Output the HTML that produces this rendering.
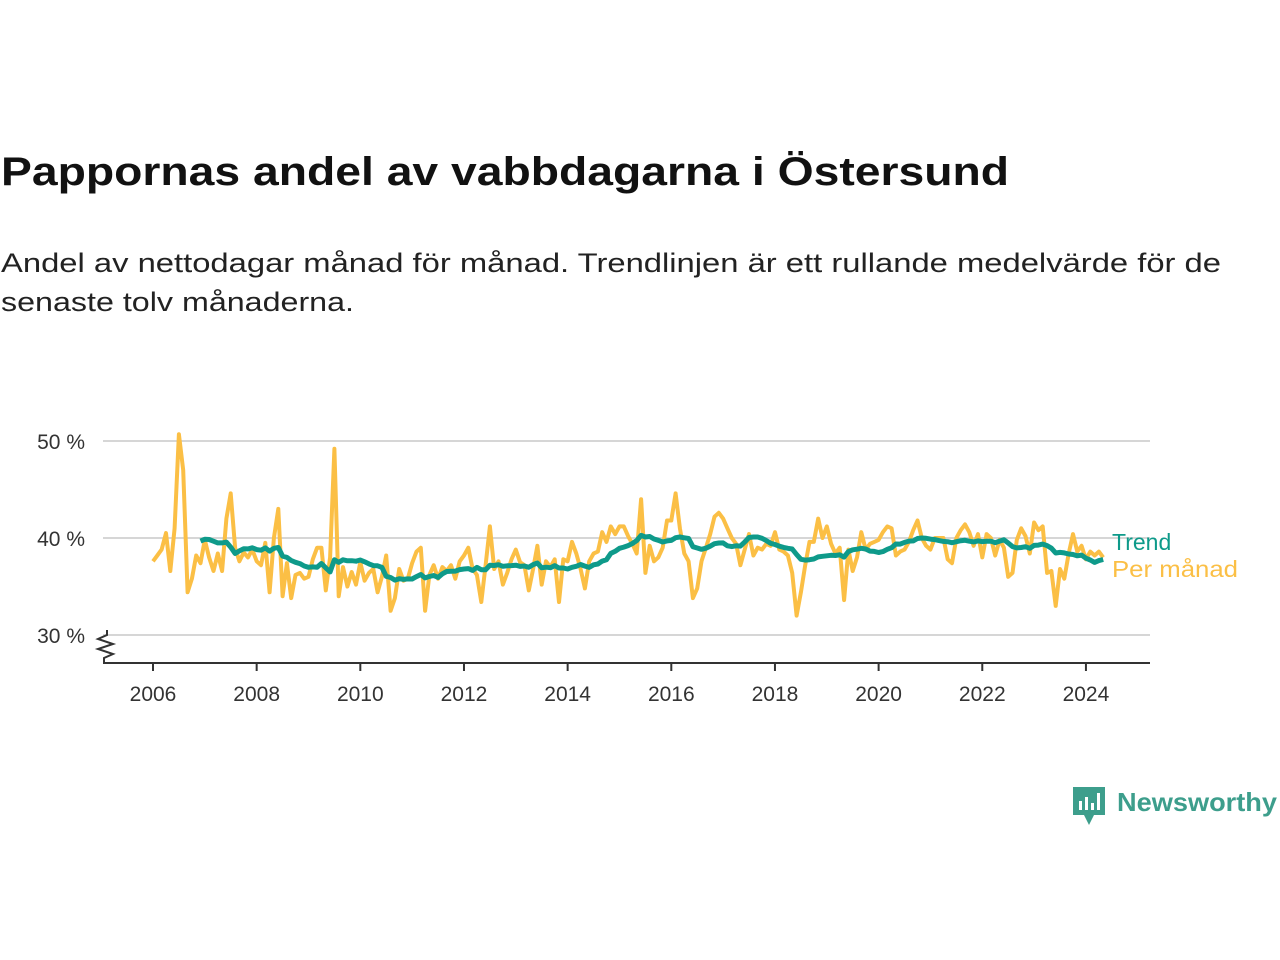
<!DOCTYPE html>
<html><head><meta charset="utf-8"><style>
body{margin:0;background:#fff}
svg{display:block;font-family:"Liberation Sans","DejaVu Sans",sans-serif}
</style></head><body>
<svg id="c" width="1280" height="960" viewBox="0 0 1280 960">
<text x="1" y="185" font-size="40" font-weight="bold" fill="#111" textLength="1008" lengthAdjust="spacingAndGlyphs">Pappornas andel av vabbdagarna i Östersund</text>
<text x="1" y="272" font-size="27" fill="#222" textLength="1220" lengthAdjust="spacingAndGlyphs">Andel av nettodagar månad för månad. Trendlinjen är ett rullande medelvärde för de</text>
<text x="1" y="311" font-size="27" fill="#222" textLength="353" lengthAdjust="spacingAndGlyphs">senaste tolv månaderna.</text>
<g id="grid"></g><g id="axes"></g><g id="series"></g>
<text x="1112" y="550" font-size="23" fill="#0e9a8a">Trend</text>
<text x="1112" y="577" font-size="23" fill="#fbbf45" textLength="126" lengthAdjust="spacingAndGlyphs">Per månad</text>
<g>
<path d="M1073 787h32v28h-11l-5 10l-5-10h-11z" fill="#3d9e8c"/>
<rect x="1079" y="801" width="3" height="9" fill="#fff"/><rect x="1085" y="797" width="3" height="13" fill="#fff"/><rect x="1091" y="803" width="3" height="7" fill="#fff"/><rect x="1097" y="793" width="3" height="17" fill="#fff"/>
<text x="1117" y="811" font-size="26" font-weight="bold" fill="#3d9e8c" textLength="160" lengthAdjust="spacingAndGlyphs">Newsworthy</text>
</g>
</svg>
<script>
const yTicks=[30,40,50];
const yTickLabels=["30 %","40 %","50 %"];
const xYears=[2006,2008,2010,2012,2014,2016,2018,2020,2022,2024];
const startYear=2006;
const perManad=[
37.6,38.2,38.8,40.5,36.6,41,50.7,47,34.4,35.8,38.2,37.4,
39.8,38,36.6,38.4,36.6,42,44.6,39,37.6,38.5,38.0,38.8,37.6,
37.2,39.5,34.4,40,43,34,37.4,33.8,36.2,36.4,35.8,36.0,37.8,
39,39,34.6,38,49.2,34,37,35,36.5,35.2,37.5,35.6,
36.4,36.8,34.4,36,38.2,32.5,33.8,36.8,35.6,35.8,37.4,38.6,
39,32.5,36.2,37.2,35.8,37,36.6,37.2,35.8,37.6,38.2,39,
36.8,36.2,33.4,37.2,41.2,36.8,37.6,35.2,36.4,37.8,38.8,37.5,
37.2,34.6,36.8,39.2,35.2,37.6,37,37.8,33.4,37.8,37.6,39.6,
38.4,36.8,34.8,37.6,38.4,38.6,40.6,39.6,41.2,40.4,41.2,41.2,
40.2,39.4,38.4,44,36.4,39.2,37.6,38,39,41.8,41.8,44.6,
41,38.4,37.6,33.8,34.8,37.6,39,40.4,42.2,42.6,42,41,
40,39.4,37.2,38.8,40.4,38.2,39,38.8,39.4,39.2,40.6,38.8,
38.6,38.2,36.4,32,34.4,37.2,39.6,39.6,42,40,41.2,39.4,
38.4,39,33.6,38.8,36.6,38,40.6,38.8,39.4,39.6,39.8,40.6,
41.2,41,38.2,38.6,38.8,39.6,40.8,41.8,40,39.2,38.8,40,
40,40,37.8,37.4,40,40.8,41.4,40.6,39.2,40.4,38,40.4,
40,38.2,39.8,39,36,36.4,39.8,41,40.2,38.4,41.6,40.8,
41.2,36.4,36.6,33,36.8,35.8,38.4,40.4,38.6,39.2,
37.8,38.6,38.2,38.6,38];
const NS="http://www.w3.org/2000/svg";
const X=t=>153+(t-startYear)*51.83;
const Y=v=>538-(v-40)*9.7;
function mk(tag,attrs,parent){const e=document.createElementNS(NS,tag);for(const k in attrs)e.setAttribute(k,attrs[k]);document.getElementById(parent).appendChild(e);return e;}
yTicks.forEach((v,i)=>{
 const l=mk('line',{x1:103,x2:1150,y1:Y(v),y2:Y(v),stroke:'#d6d6d6','stroke-width':2},'grid');
 
 
 const t=mk('text',{x:85,y:Y(v)+8,'font-size':21,fill:'#333','text-anchor':'end'},'grid');
 t.textContent=yTickLabels[i];
 
 
});
const ax=mk('line',{x1:103,x2:1150,y1:663,y2:663,stroke:'#333','stroke-width':2},'axes');


const zz=mk('path',{d:'M107 630v5l-9 4l15 5l-15 5l15 5l-9 4v5',fill:'none',stroke:'#333','stroke-width':2},'axes');


xYears.forEach(yr=>{
 const tk=mk('line',{x1:X(yr),x2:X(yr),y1:663,y2:671,stroke:'#333','stroke-width':2},'axes');
 
 
 const t=mk('text',{x:X(yr),y:701,'font-size':21,fill:'#333','text-anchor':'middle'},'axes');
 t.textContent=yr;
 
 
});
const pts=perManad.map((v,i)=>X(startYear+i/12).toFixed(1)+','+Y(v).toFixed(1));
const pm=mk('polyline',{points:pts.join(' '),fill:'none',stroke:'#fbbf45','stroke-width':4,'stroke-linejoin':'round'},'series');


const tp=[];
for(let i=11;i<perManad.length;i++){let s=0;for(let j=i-11;j<=i;j++)s+=perManad[j];tp.push(X(startYear+i/12).toFixed(1)+','+Y(s/12).toFixed(1));}
const tr=mk('polyline',{points:tp.join(' '),fill:'none',stroke:'#0e9a8a','stroke-width':5,'stroke-linejoin':'round'},'series');


</script>
</body></html>
